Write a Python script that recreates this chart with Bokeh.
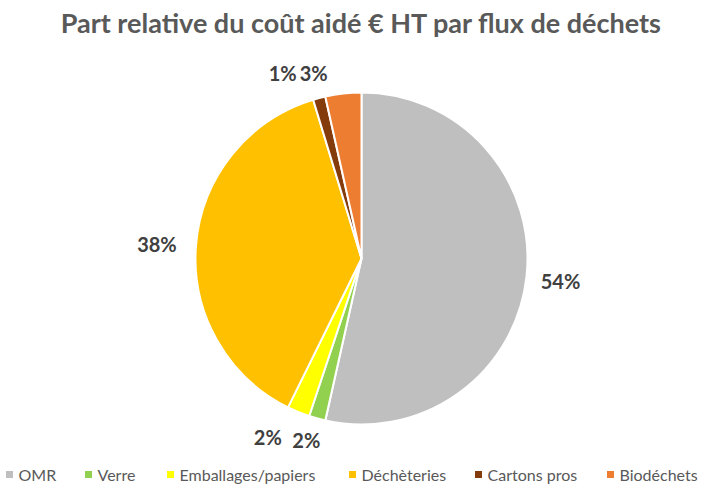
import math
from bokeh.plotting import figure
from bokeh.models import Range1d, ColumnDataSource
from bokeh.core.properties import value
from bokeh.embed import file_html
from bokeh.resources import INLINE

# ---- data ----
categories = ["OMR", "Verre", "Emballages/papiers", "Déchèteries", "Cartons pros", "Biodéchets"]
shares = [53.5, 1.6, 2.2, 38.0, 1.2, 3.5]
labels = ["54%", "2%", "2%", "38%", "1%", "3%"]
colors = ["#BFBFBF", "#92D050", "#FFFF00", "#FFC000", "#843C0C", "#ED7D31"]

# ---- layout (image-pixel coordinates; data y = 500 - image y) ----
W, H = 701, 484
CX, CY, R = 361, 500 - 258, 166
LABEL_R = 1.2 * R
label_nudge = [(1, -1), (-2, 10), (-18, 6), (-6, -2), (-28, -7), (-26, -12)]
legend_x = [9, 88, 170, 352, 478, 610]
legend_y = 500 - 474
FONT = "Lato"

p = figure(width=W, height=H, output_backend="svg", toolbar_location=None,
           x_range=Range1d(0, W), y_range=Range1d(500 - H, 500),
           min_border=0, outline_line_color=None)
p.axis.visible = False
p.grid.visible = False
p.background_fill_color = "white"
p.border_fill_color = "white"

total = sum(shares)
starts, ends, lx, ly = [], [], [], []
cum = 0.0
for s, (dx, dy) in zip(shares, label_nudge):
    a0 = math.pi / 2 - 2 * math.pi * cum / total
    cum += s
    a1 = math.pi / 2 - 2 * math.pi * cum / total
    starts.append(a0)
    ends.append(a1)
    mid = (a0 + a1) / 2
    lx.append(CX + LABEL_R * math.cos(mid) + dx)
    ly.append(CY + LABEL_R * math.sin(mid) + dy)

src = ColumnDataSource(dict(start=starts, end=ends, color=colors, cat=categories,
                            lx=lx, ly=ly, lab=labels))
p.wedge(x=CX, y=CY, radius=R, start_angle="start", end_angle="end", direction="clock",
        fill_color="color", line_color="white", line_width=2, source=src)

p.text(x="lx", y="ly", text="lab", source=src, text_font=value(FONT), text_font_style="bold",
       text_font_size="20px", text_color="#404040", text_align="center", text_baseline="middle")

# title
p.text(x=[361], y=[500 - 22], text=["Part relative du coût aidé € HT par flux de déchets"],
       text_font=value(FONT), text_font_style="bold", text_font_size="27px",
       text_color="#595959", text_align="center", text_baseline="middle")

# legend
p.scatter(x=legend_x, y=[legend_y] * len(legend_x), marker="square", size=7,
          color=colors, line_color=None)
p.text(x=[x + 9 for x in legend_x], y=[legend_y] * len(legend_x), text=categories,
       text_font=value(FONT), text_font_size="16px", text_color="#595959",
       text_align="left", text_baseline="middle")

open("out.html", "w").write(file_html(p, INLINE))
